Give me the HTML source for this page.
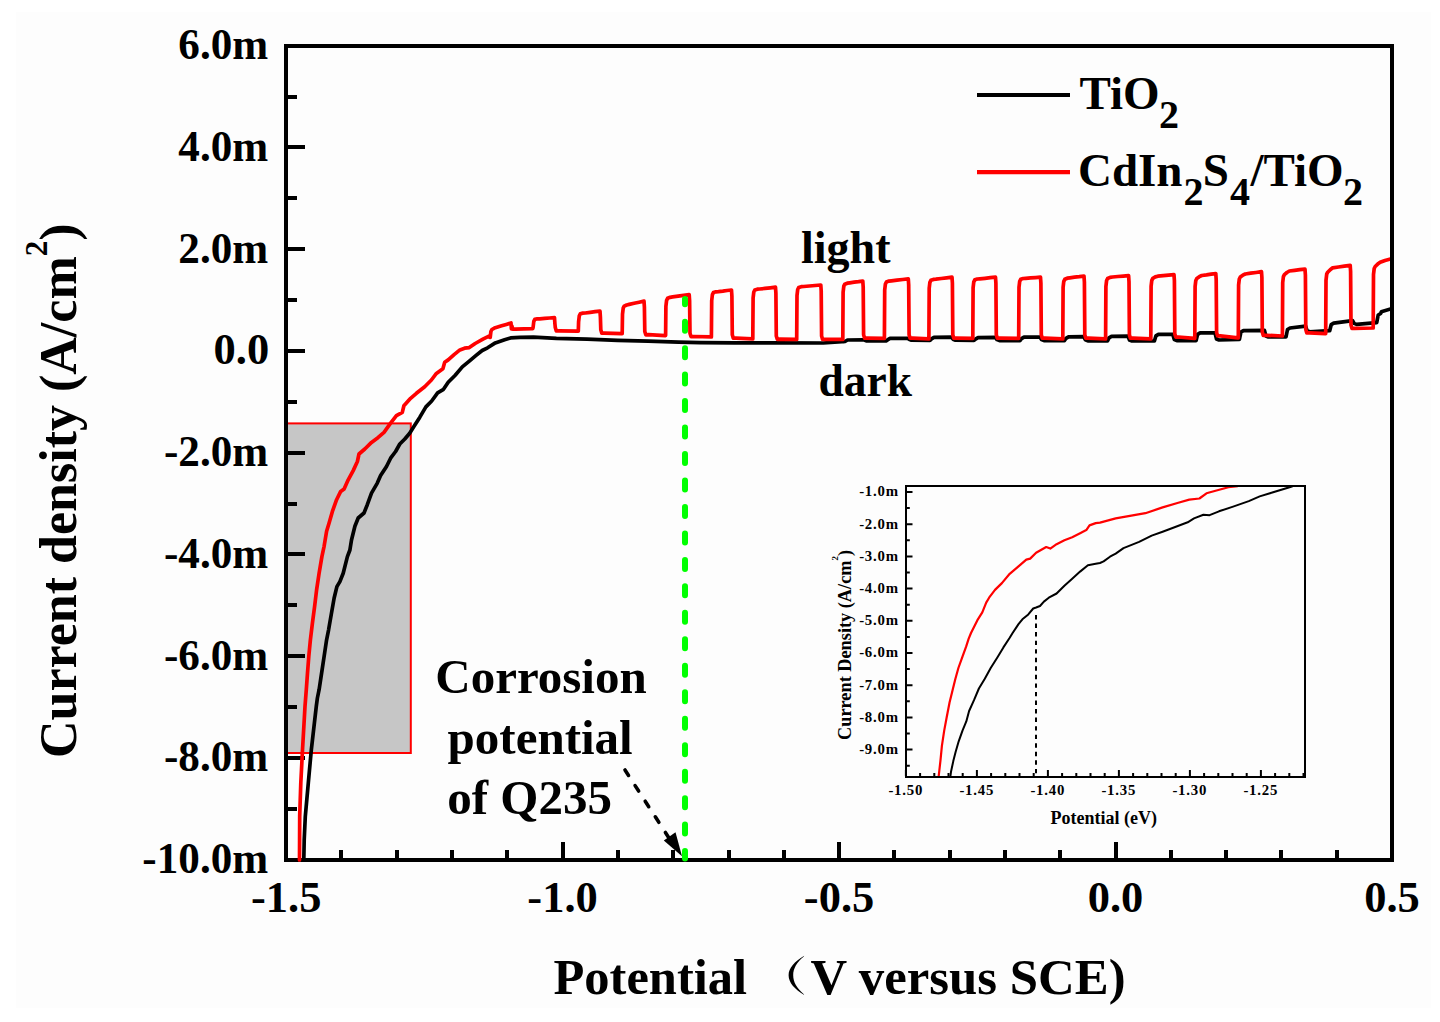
<!DOCTYPE html><html><head><meta charset="utf-8"><title>Current density vs potential</title><style>
html,body{margin:0;padding:0;background:#fff;width:1440px;height:1022px;overflow:hidden}
svg{display:block}
text{font-family:"Liberation Serif",serif;font-weight:bold;fill:#000}
</style></head><body>
<svg width="1440" height="1022" viewBox="0 0 1440 1022">
<rect x="0" y="0" width="1440" height="1022" fill="#ffffff"/>
<rect x="16" y="12" width="1415" height="996" fill="#fdfdfd"/>
<rect x="287" y="423.4" width="123.8" height="329.6" fill="#c6c6c6" stroke="#ff0000" stroke-width="2"/>
<rect x="286" y="46" width="1106" height="814" fill="none" stroke="#000" stroke-width="4"/>
<defs><clipPath id="pc"><rect x="288" y="48" width="1102" height="815"/></clipPath></defs>
<path d="M286,860 h19 M286,809 h11 M286,758 h19 M286,707 h11 M286,656 h19 M286,605 h11 M286,554 h19 M286,504 h11 M286,453 h19 M286,402 h11 M286,351 h19 M286,300 h11 M286,249 h19 M286,198 h11 M286,147 h19 M286,97 h11 M286,46 h19 M286,860 v-18 M341,860 v-10 M397,860 v-10 M452,860 v-10 M507,860 v-10 M563,860 v-18 M618,860 v-10 M673,860 v-10 M729,860 v-10 M784,860 v-10 M839,860 v-18 M894,860 v-10 M950,860 v-10 M1005,860 v-10 M1060,860 v-10 M1116,860 v-18 M1171,860 v-10 M1226,860 v-10 M1281,860 v-10 M1337,860 v-10 M1392,860 v-18" stroke="#000" stroke-width="4" fill="none"/>
<path clip-path="url(#pc)" d="M303.8,860 L304.2,840 305.3,816.4 308.3,783 311.3,750 316.3,706.3 317.4,698 319.1,689.7 321.6,673.1 324.1,656.4 326.6,639.8 328.6,629.8 331.2,614.8 334.1,598.2 336.9,586.6 339.9,581.6 343.2,573.3 347.4,556.6 349.9,550 351.5,540 354.9,526.3 358.2,518 364,513 367.3,504.7 371.5,493.1 377.3,483.1 380.6,475.6 386.5,466.5 390.6,458.2 395.6,451.5 399.8,444 404.8,439 409.7,433.2 413.9,426.6 419.7,417.4 425.9,406.9 431.7,401 437.6,392.8 443.5,389.3 448.2,382.2 455.2,375.2 462.3,366.9 469.3,361.1 476.4,355.2 482.2,350.5 487.6,347.8 495.3,342.9 504.6,339.7 510.6,337.9 520,337.3 533.5,337.1 556.4,338.3 587,339.1 617.5,340.3 648,341.1 678.6,342.2 700,342.6 734.4,342.8 778.9,342.8 823.3,343 842,341.6 843.5,341.6 845,341.5 847.5,340 862.8,339.8 864.3,340 866.8,341 886,341 886,341 887.5,339.9 890,338.4 907.5,338.3 909,339.2 911.5,340.2 930,340.3 930,340.3 931.5,338.9 934,337.4 951.5,337.2 953,339.2 955.5,340.2 974,340.4 974,340.4 975.5,339.1 978,337.6 995.5,337.4 997,339.6 999.5,340.6 1020,340.6 1020,340.6 1021.5,338.7 1024,337.2 1040,337 1041.5,339.6 1044,340.6 1064.5,340.6 1064.5,340.6 1066,338.3 1068.5,336.8 1083.8,336.6 1085.3,339.8 1087.8,340.8 1107.5,340.8 1107.5,340.8 1109,337.9 1111.5,336.4 1128,336.2 1129.5,340 1132,341 1154.4,341 1154.4,341 1155.9,335.9 1158.4,334.4 1172.8,334.4 1174.3,339.6 1176.8,340.6 1196.1,340.6 1196.1,340.6 1197.6,334.3 1200.1,332.8 1215,332.8 1216.5,339 1219,340 1239.4,339.4 1239.4,339.4 1240.9,332.2 1243.4,330.7 1264.4,330.3 1265.9,336 1268.4,337 1286,337 1286,337 1287.5,329.5 1290,328 1305.6,326.1 1307.1,330.8 1309.6,331.8 1329.7,330.7 1329.7,330.7 1331.2,324.7 1333.7,323.2 1352.6,320.7 1354.1,323.4 1356.6,324.4 1376.7,322.7 1376.7,322.7 1378.2,315 1380.7,313.5 1381.3,311.8 1392,308.5" stroke="#000" stroke-width="3.7" fill="none" stroke-linejoin="round" stroke-linecap="round"/>
<path clip-path="url(#pc)" d="M299.5,860 L299.6,840 299.7,816.4 300.8,783 302.5,750 305,706.3 306.3,689.7 307.5,673.1 308.8,656.4 310.4,639.8 312.4,623.2 314.6,606.5 316.6,589.9 319.1,573.3 321.9,556.6 324.1,546.3 326.6,531.3 329.1,523 332.4,511.4 336.6,499.7 340.7,491.4 344.1,488.9 348.2,479.8 353.2,470.6 357.4,461.5 359,454 364.8,449 371.5,442.4 378.2,437.4 384,432.4 390.6,423.2 396.4,415.7 402.3,412.4 403.9,405.8 410.6,398.3 416.4,393.3 424.7,386.7 431.4,380 436.4,373.4 442.9,368.7 444.7,362.3 448.2,359.9 454.1,354.6 459.9,349.9 464.6,348.2 469.3,347.6 475.2,343.5 483.4,338.8 489.5,335.8 489.9,335.8 490.2,337.5 490.9,331.5 491.9,329.5 494.4,328.1 496.9,327.3 501.6,325.8 506.3,324.4 511,322.9 511.4,328.9 511.8,325.8 512.8,329.2 515.5,329.1 532.3,328.6 532.8,328.6 533.1,327.4 533.8,321.4 534.8,319.4 537.3,318.8 539.8,318.8 544.7,318.4 549.6,318 554.5,317.6 554.9,323.6 555.3,327.6 556.3,331 559,330.9 577.8,331.1 578.3,331.1 578.6,321.8 579.3,315.8 580.3,313.8 582.8,313.1 585.3,313 590.2,312.4 595.1,311.7 600,311.1 600.4,317.1 600.8,329.8 601.8,333.2 604.5,333.1 621.7,333.6 622.2,333.6 622.5,314.2 623.2,308.2 624.2,306.2 626.7,305 629.2,304.4 634.1,303.3 639.1,302.2 644,301.1 644.4,307.1 644.8,331.4 645.8,334.8 648.5,334.7 665.1,335.6 665.6,335.6 665.9,306.3 666.6,300.3 667.6,298.3 670.1,297.3 672.6,296.9 678.1,296.2 683.7,295.4 689.2,294.7 689.6,300.7 690,333.2 691,336.6 693.7,336.5 710.9,336.9 711.4,336.9 711.7,300.6 712.4,294.6 713.4,292.6 715.9,291.8 718.4,291.6 722.8,291.1 727.1,290.5 731.5,290 731.9,296 732.3,334.8 733.3,338.2 736,338.1 752.3,338.9 752.8,338.9 753.1,298 753.8,292 754.8,290 757.3,289.2 759.8,289 765,288.4 770.3,287.8 775.5,287.2 775.9,293.2 776.3,335.9 777.3,339.3 780,339.2 796.2,339.4 796.7,339.4 797,295.5 797.7,289.5 798.7,287.5 801.2,286.7 803.7,286.5 809.4,286 815.1,285.5 820.8,285 821.2,291 821.6,336 822.6,339.4 825.3,339.3 842.3,339.4 842.8,339.4 843.1,292.2 843.8,286.2 844.8,284.2 847.3,283.2 849.8,282.8 854.1,282.2 858.5,281.7 862.8,281.1 863.2,287.1 863.6,334.8 864.6,338.2 867.3,338.1 883.9,338.3 884.4,338.3 884.7,290 885.4,284 886.4,282 888.9,281.1 891.4,280.8 897,280.2 902.7,279.5 908.3,278.9 908.7,284.9 909.1,334.8 910.1,338.2 912.8,338.1 928.4,338.9 928.9,338.9 929.2,288.3 929.9,282.3 930.9,280.3 933.4,279.4 935.9,279.2 941.3,278.5 946.6,277.9 952,277.2 952.4,283.2 952.8,334.8 953.8,338.2 956.5,338.1 972.3,338.3 972.8,338.3 973.1,287.8 973.8,281.8 974.8,279.8 977.3,279 979.8,278.8 985,278.3 990.3,277.7 995.5,277.2 995.9,283.2 996.3,334.8 997.3,338.2 1000,338.1 1018.2,338.3 1018.7,338.3 1019,287.3 1019.7,281.3 1020.7,279.3 1023.2,278.5 1025.7,278.3 1030.6,277.9 1035.6,277.6 1040.5,277.2 1040.9,283.2 1041.3,334.8 1042.3,338.2 1045,338.1 1062.3,338.9 1062.8,338.9 1063.1,287.3 1063.8,281.3 1064.8,279.3 1067.3,278.2 1069.8,277.8 1074.5,277.2 1079.3,276.7 1084,276.1 1084.4,282.1 1084.8,334.8 1085.8,338.2 1088.5,338.1 1105.1,338.9 1105.6,338.9 1105.9,286.5 1106.6,280.5 1107.6,278.5 1110.1,277.4 1112.6,277 1117.9,276.5 1123.3,276.1 1128.6,275.6 1129,281.6 1129.4,334.8 1130.4,338.2 1133.1,338.1 1150.3,338.9 1150.8,338.9 1151.1,286.3 1151.8,280.3 1152.8,278.3 1155.3,276.9 1157.8,276.2 1163.2,275.7 1168.6,275.1 1174,274.6 1174.4,280.6 1174.8,333.7 1175.8,337.1 1178.5,337 1194.3,338.3 1194.8,338.3 1195.1,286.5 1195.8,280.5 1196.8,278.5 1199.3,276.7 1201.8,275.5 1206.5,274.9 1211.1,274.2 1215.8,273.6 1216.2,279.6 1216.6,332.6 1217.6,336 1220.3,335.9 1237.8,337.8 1238.3,337.8 1238.6,285 1239.3,279 1240.3,277 1242.8,275.2 1245.3,274 1250.7,273.2 1256.1,272.5 1261.5,271.7 1261.9,277.7 1262.3,332 1263.3,335.4 1266,335.3 1281.9,336 1282.4,336 1282.7,282.6 1283.4,276.6 1284.4,274.6 1286.9,272.5 1289.4,271 1294.6,270.4 1299.8,269.7 1305,269.1 1305.4,275.1 1305.8,329.5 1306.8,332.9 1309.5,332.8 1325.2,333.6 1325.7,333.6 1326,280.2 1326.7,274.2 1327.7,272.2 1330.2,269.7 1332.7,267.8 1338.5,267 1344.4,266.1 1350.2,265.3 1350.6,271.3 1351,325 1352,328.4 1354.7,328.3 1372.7,328 1373.2,328 1373.5,274.5 1374.2,268.5 1375.2,266.5 1377.7,264.1 1380.2,262.3 1385,260.5 1392,258.6" stroke="#ff0000" stroke-width="3.7" fill="none" stroke-linejoin="round" stroke-linecap="round"/>
<line x1="685" y1="299" x2="685" y2="858.6" stroke="#00ff00" stroke-width="6" stroke-dasharray="9 17.47" stroke-dashoffset="3.8" stroke-linecap="round"/>
<line x1="625" y1="770" x2="669" y2="838" stroke="#000" stroke-width="3.6" stroke-dasharray="6.5 12.1" stroke-linecap="round"/>
<path d="M663.8,840.5 L675.5,832.3 L682,856.3 Z" fill="#000"/>
<text transform="translate(268.2,873.1) scale(0.97,1)" font-size="44.5" text-anchor="end">-10.0m</text>
<text transform="translate(268.2,771.4) scale(0.97,1)" font-size="44.5" text-anchor="end">-8.0m</text>
<text transform="translate(268.2,669.6) scale(0.97,1)" font-size="44.5" text-anchor="end">-6.0m</text>
<text transform="translate(268.2,567.9) scale(0.97,1)" font-size="44.5" text-anchor="end">-4.0m</text>
<text transform="translate(268.2,466.1) scale(0.97,1)" font-size="44.5" text-anchor="end">-2.0m</text>
<text x="269.2" y="364.4" font-size="44.5" text-anchor="end">0.0</text>
<text transform="translate(268.2,262.7) scale(0.97,1)" font-size="44.5" text-anchor="end">2.0m</text>
<text transform="translate(268.2,160.9) scale(0.97,1)" font-size="44.5" text-anchor="end">4.0m</text>
<text transform="translate(268.2,59.2) scale(0.97,1)" font-size="44.5" text-anchor="end">6.0m</text>
<text x="286.2" y="912" font-size="44.5" text-anchor="middle">-1.5</text>
<text x="562.6" y="912" font-size="44.5" text-anchor="middle">-1.0</text>
<text x="839.1" y="912" font-size="44.5" text-anchor="middle">-0.5</text>
<text x="1115.5" y="912" font-size="44.5" text-anchor="middle">0.0</text>
<text x="1392" y="912" font-size="44.5" text-anchor="middle">0.5</text>
<text transform="translate(76,490.7) rotate(-90)" font-size="52" text-anchor="middle">Current density (A/cm<tspan font-size="31" dy="-29">2</tspan><tspan dy="29">)</tspan></text>
<text x="553.5" y="994" font-size="50.5">Potential</text>
<path d="M804.2,955.8 C794.5,961.5 788.6,968 788.6,975.3 C788.6,982.6 794.5,989.2 804.2,994.9 L803.6,993.9 C796.8,988.5 793.2,982 793.2,975.3 C793.2,968.6 796.8,962.2 803.6,956.8 Z" fill="#000"/>
<text x="810.4" y="994" font-size="50.8">V versus SCE)</text>
<line x1="977" y1="95" x2="1070" y2="95" stroke="#000" stroke-width="4.2"/>
<line x1="977" y1="172.2" x2="1070" y2="172.2" stroke="#ff0000" stroke-width="4.2"/>
<text x="1079.4" y="108.7" font-size="47">TiO</text><text x="1159" y="127.5" font-size="40">2</text>
<text x="1078" y="186" font-size="47">CdIn</text><text x="1183.5" y="204.5" font-size="40">2</text><text x="1202.7" y="186" font-size="47">S</text><text x="1229.9" y="204.5" font-size="40">4</text><text x="1250.4" y="186" font-size="47">/TiO</text><text x="1343" y="204.5" font-size="40">2</text>
<text x="801" y="263.2" font-size="46">light</text>
<text x="818.5" y="395.6" font-size="45.5">dark</text>
<text x="435.3" y="692.9" font-size="49">Corrosion</text>
<text x="447.6" y="753.7" font-size="49">potential</text>
<text x="447.3" y="814.4" font-size="49">of Q235</text>
<path d="M907,492 h5.5 M907,508.1 h2.8 M907,524.2 h5.5 M907,540.3 h2.8 M907,556.4 h5.5 M907,572.5 h2.8 M907,588.6 h5.5 M907,604.7 h2.8 M907,620.8 h5.5 M907,636.9 h2.8 M907,653 h5.5 M907,669.1 h2.8 M907,685.2 h5.5 M907,701.3 h2.8 M907,717.4 h5.5 M907,733.5 h2.8 M907,749.6 h5.5 M907,765.7 h2.8 M905.9,776 v-6 M920.1,776 v-3 M934.3,776 v-3 M948.5,776 v-3 M962.7,776 v-3 M976.9,776 v-6 M991.1,776 v-3 M1005.3,776 v-3 M1019.5,776 v-3 M1033.7,776 v-3 M1047.9,776 v-6 M1062.1,776 v-3 M1076.3,776 v-3 M1090.5,776 v-3 M1104.7,776 v-3 M1118.9,776 v-6 M1133.1,776 v-3 M1147.3,776 v-3 M1161.5,776 v-3 M1175.7,776 v-3 M1189.9,776 v-6 M1204.1,776 v-3 M1218.3,776 v-3 M1232.5,776 v-3 M1246.7,776 v-3 M1260.9,776 v-6 M1275.1,776 v-3 M1289.3,776 v-3 M1303.5,776 v-3" stroke="#000" stroke-width="2" fill="none"/>
<path d="M950.3,777 L951,771.8 953.3,761.1 955.6,752 958.7,741.3 962.5,730.6 966.3,721.4 969.1,711 974,700.2 978.9,688.5 984.8,678.7 990.7,668 997.5,657.2 1003.4,647.4 1009.7,637.8 1012.6,633 1018.5,624.1 1022.4,619.3 1028.3,614.4 1033.2,608.5 1036.1,607.5 1040,606 1043.9,601.6 1048.8,597.7 1056.6,593.5 1064.4,585.7 1072.2,578.7 1080.1,571.6 1087.9,565.3 1095.7,563.8 1100,563 1103.6,561.4 1110,556.7 1115.7,553.6 1123.5,548.1 1139.1,541.9 1151.7,535.6 1162.6,531.7 1175.2,527 1187.7,522.3 1194,518.4 1203.4,514.8 1209.6,515.2 1219,511.3 1233.1,506.6 1248.8,501.1 1259.7,496.4 1272.3,492.5 1287.9,487.8 1292.6,486.3" stroke="#000" stroke-width="2" fill="none" stroke-linejoin="round"/>
<path d="M938.6,777 L940.4,761.1 941.9,745.8 944.2,730.6 946.6,717.8 949.6,702.2 952.5,690.5 955.4,678.7 958.4,668 962.3,657.2 966.2,646.4 968.6,638.8 971,633 977.4,620.2 982.3,612.4 986.2,602.6 989.1,597.7 995,589.9 1001.9,583.1 1009.7,573.8 1018.5,566.4 1026.3,559.6 1030.2,558.6 1036.1,552.7 1046.2,547 1050.3,548.6 1056.6,544.2 1064.4,540.3 1072.2,537.2 1080.1,533.2 1086.3,530.1 1089.5,525.4 1095.7,523.1 1100,522.6 1115.7,518.4 1131.3,515.7 1145.4,513.2 1162.6,507.4 1178.3,502.7 1189.3,499.6 1199.4,498.5 1206.5,493.3 1217.4,490.2 1228.4,487.2 1237.8,486.2" stroke="#ff0000" stroke-width="2.2" fill="none" stroke-linejoin="round"/>
<line x1="1036" y1="615" x2="1036" y2="776" stroke="#000" stroke-width="2" stroke-dasharray="4.4 4.15"/>
<rect x="906" y="486" width="399" height="291" fill="none" stroke="#000" stroke-width="2"/>
<text x="898.9" y="496.3" font-size="14.8" letter-spacing="0.8" text-anchor="end">-1.0m</text>
<text x="898.9" y="528.5" font-size="14.8" letter-spacing="0.8" text-anchor="end">-2.0m</text>
<text x="898.9" y="560.7" font-size="14.8" letter-spacing="0.8" text-anchor="end">-3.0m</text>
<text x="898.9" y="592.9" font-size="14.8" letter-spacing="0.8" text-anchor="end">-4.0m</text>
<text x="898.9" y="625.1" font-size="14.8" letter-spacing="0.8" text-anchor="end">-5.0m</text>
<text x="898.9" y="657.3" font-size="14.8" letter-spacing="0.8" text-anchor="end">-6.0m</text>
<text x="898.9" y="689.5" font-size="14.8" letter-spacing="0.8" text-anchor="end">-7.0m</text>
<text x="898.9" y="721.7" font-size="14.8" letter-spacing="0.8" text-anchor="end">-8.0m</text>
<text x="898.9" y="753.9" font-size="14.8" letter-spacing="0.8" text-anchor="end">-9.0m</text>
<text x="905.8" y="794.8" font-size="14.8" letter-spacing="0.8" text-anchor="middle">-1.50</text>
<text x="976.8" y="794.8" font-size="14.8" letter-spacing="0.8" text-anchor="middle">-1.45</text>
<text x="1047.8" y="794.8" font-size="14.8" letter-spacing="0.8" text-anchor="middle">-1.40</text>
<text x="1118.8" y="794.8" font-size="14.8" letter-spacing="0.8" text-anchor="middle">-1.35</text>
<text x="1189.8" y="794.8" font-size="14.8" letter-spacing="0.8" text-anchor="middle">-1.30</text>
<text x="1260.8" y="794.8" font-size="14.8" letter-spacing="0.8" text-anchor="middle">-1.25</text>
<text x="1050.5" y="824" font-size="18">Potential (eV)</text>
<text transform="translate(850.6,644.9) rotate(-90)" font-size="18.3" text-anchor="middle">Current Density (A/cm<tspan font-size="9" dy="-12.7">2</tspan><tspan dy="12.7">)</tspan></text>
</svg></body></html>
